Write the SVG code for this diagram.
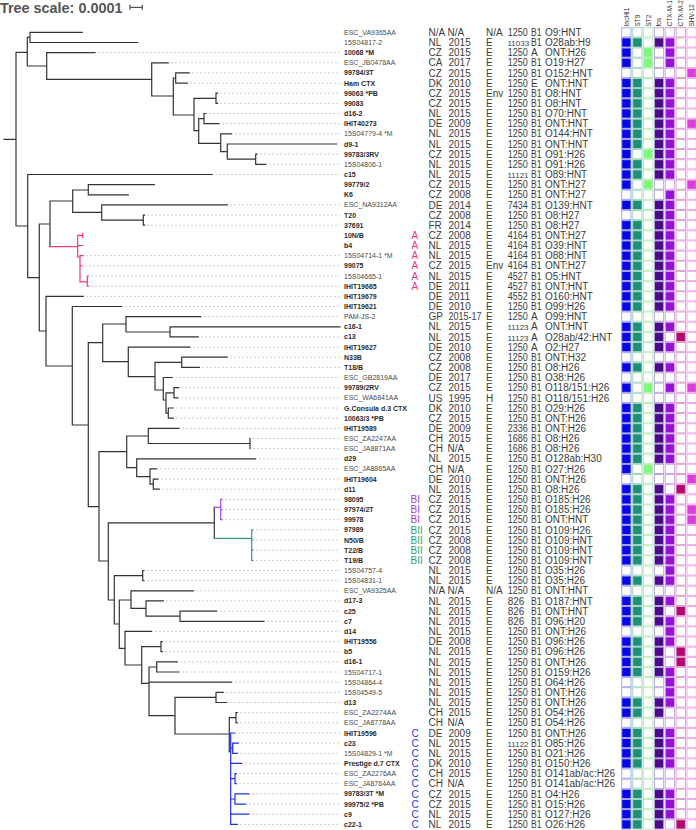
<svg xmlns="http://www.w3.org/2000/svg" width="696" height="830" viewBox="0 0 696 830">
<style>
text{font-family:"Liberation Sans",Arial,sans-serif}
.n{font-size:7px;fill:#4a4a4a}
.b{font-weight:bold;fill:#2a2a2a}
.m{font-size:10px;fill:#3c3c3c}
.s5{font-size:8px}
.ca{fill:#f2307c}.cbi{fill:#a33ed6}.cbii{fill:#2ea17e}.cc{fill:#2036f0}
.h{font-size:6.5px;fill:#333}
.t{fill:none;stroke:#333;stroke-width:1.2;stroke-linecap:square}
.tp{fill:none;stroke:#ee3a82;stroke-width:1.2;stroke-linecap:square}
.tv{fill:none;stroke:#b044e0;stroke-width:1.2;stroke-linecap:square}
.tg{fill:none;stroke:#2e9d7a;stroke-width:1.2;stroke-linecap:square}
.tb{fill:none;stroke:#1f2ff0;stroke-width:1.2;stroke-linecap:square}
.ld{fill:none;stroke:#cfcfcf;stroke-width:1;stroke-dasharray:2 2}
.i1{fill:#0707e4;stroke:#a4a4ee}.i0{fill:#fff;stroke:#a4a4ee}
.s1{fill:#1a9078;stroke:#a4d6c6}.s0{fill:#fff;stroke:#a4d6c6}
.g1{fill:#7ef97e;stroke:#b8f0b8}.g0{fill:#fff;stroke:#b8f0b8}
.f1{fill:#4a0a8a;stroke:#b8a6dc}.f0{fill:#fff;stroke:#b8a6dc}
.c1{fill:#9810d8;stroke:#d2a6f0}.c0{fill:#fff;stroke:#d2a6f0}
.k1{fill:#b0086e;stroke:#e0a0c4}.k0{fill:#fff;stroke:#e0a0c4}
.v1{fill:#d83ed8;stroke:#f0a8f0}.v0{fill:#fff;stroke:#f0a8f0}
</style>
<defs>
<rect id="I1" class="i1" x="621.7" y="-4.6" width="9.3" height="9.2"/><rect id="I0" class="i0" x="621.7" y="-4.6" width="9.3" height="9.2"/>
<rect id="S1" class="s1" x="632.7" y="-4.6" width="9.3" height="9.2"/><rect id="S0" class="s0" x="632.7" y="-4.6" width="9.3" height="9.2"/>
<rect id="G1" class="g1" x="643.5" y="-4.6" width="9.3" height="9.2"/><rect id="G0" class="g0" x="643.5" y="-4.6" width="9.3" height="9.2"/>
<rect id="F1" class="f1" x="654.4" y="-4.6" width="9.3" height="9.2"/><rect id="F0" class="f0" x="654.4" y="-4.6" width="9.3" height="9.2"/>
<rect id="C1" class="c1" x="665.3" y="-4.6" width="9.3" height="9.2"/><rect id="C0" class="c0" x="665.3" y="-4.6" width="9.3" height="9.2"/>
<rect id="K1" class="k1" x="676.1" y="-4.6" width="9.3" height="9.2"/><rect id="K0" class="k0" x="676.1" y="-4.6" width="9.3" height="9.2"/>
<rect id="V1" class="v1" x="687" y="-4.6" width="9.3" height="9.2"/><rect id="V0" class="v0" x="687" y="-4.6" width="9.3" height="9.2"/>
<g id="p0000000"><use href="#I0"/><use href="#S0"/><use href="#G0"/><use href="#F0"/><use href="#C0"/><use href="#K0"/><use href="#V0"/></g>
<g id="p1101100"><use href="#I1"/><use href="#S1"/><use href="#G0"/><use href="#F1"/><use href="#C1"/><use href="#K0"/><use href="#V0"/></g>
<g id="p1010100"><use href="#I1"/><use href="#S0"/><use href="#G1"/><use href="#F0"/><use href="#C1"/><use href="#K0"/><use href="#V0"/></g>
<g id="p0000001"><use href="#I0"/><use href="#S0"/><use href="#G0"/><use href="#F0"/><use href="#C0"/><use href="#K0"/><use href="#V1"/></g>
<g id="p1101101"><use href="#I1"/><use href="#S1"/><use href="#G0"/><use href="#F1"/><use href="#C1"/><use href="#K0"/><use href="#V1"/></g>
<g id="p1011100"><use href="#I1"/><use href="#S0"/><use href="#G1"/><use href="#F1"/><use href="#C1"/><use href="#K0"/><use href="#V0"/></g>
<g id="p1010001"><use href="#I1"/><use href="#S0"/><use href="#G1"/><use href="#F0"/><use href="#C0"/><use href="#K0"/><use href="#V1"/></g>
<g id="p0000100"><use href="#I0"/><use href="#S0"/><use href="#G0"/><use href="#F0"/><use href="#C1"/><use href="#K0"/><use href="#V0"/></g>
<g id="p0001100"><use href="#I0"/><use href="#S0"/><use href="#G0"/><use href="#F1"/><use href="#C1"/><use href="#K0"/><use href="#V0"/></g>
<g id="p1101010"><use href="#I1"/><use href="#S1"/><use href="#G0"/><use href="#F1"/><use href="#C0"/><use href="#K1"/><use href="#V0"/></g>
<g id="p1010101"><use href="#I1"/><use href="#S0"/><use href="#G1"/><use href="#F0"/><use href="#C1"/><use href="#K0"/><use href="#V1"/></g>
<g id="p1010000"><use href="#I1"/><use href="#S0"/><use href="#G1"/><use href="#F0"/><use href="#C0"/><use href="#K0"/><use href="#V0"/></g>
<g id="p1101000"><use href="#I1"/><use href="#S1"/><use href="#G0"/><use href="#F1"/><use href="#C0"/><use href="#K0"/><use href="#V0"/></g>
</defs>
<rect width="696" height="830" fill="#fff"/>
<g id="scale">
<text x="0" y="12.5" font-size="14.4" font-weight="bold" fill="#555">Tree scale: 0.0001</text>
<path d="M130,7.3H142.3M130,4.8V9.8M142.3,4.8V9.8" stroke="#555" stroke-width="1.3" fill="none"/>
</g>
<g id="header" class="h">
<text transform="translate(628.7,26.5) rotate(-90)">IncHI1</text>
<text transform="translate(639.7,26.5) rotate(-90)">ST9</text>
<text transform="translate(650.5,26.5) rotate(-90)">ST2</text>
<text transform="translate(661.4,26.5) rotate(-90)">fos</text>
<text transform="translate(672.3,26.5) rotate(-90)">CTX-M-1</text>
<text transform="translate(683.1,26.5) rotate(-90)">CTX-M-2</text>
<text transform="translate(694,26.5) rotate(-90)">SHV-12</text>
</g>
<g id="connectors">
<path class="ld" d="M98,52.6H340M171,62.8H340M192,72.9H340M190,83.1H340M220,93.2H340M220,103.4H340M209,113.5H340M222,123.7H340M235,133.8H340M260,154.1H340M269,164.3H340M215,174.5H340M230,204.9H340M147,215.1H340M147,225.2H340M86,255.7H340M85,265.8H340M91,276H340M91,286.2H340M86,296.3H340M125,306.5H340M204,316.6H340M201,336.9H340M193,347.1H340M230,357.2H340M202,367.4H340M175,377.5H340M181,387.7H340M181,397.9H340M176,408H340M176,418.2H340M182,428.3H340M253,438.5H340M253,448.6H340M259,458.8H340M160,468.9H340M161,479.1H340M162,489.2H340M225,499.4H340M225,509.6H340M225,519.7H340M256,529.9H340M256,540H340M256,550.2H340M256,560.3H340M147,570.5H340M147,580.6H340M196,590.8H340M166,600.9H340M220,611.1H340M267,621.3H340M155,631.4H340M165,641.6H340M165,651.7H340M180,661.9H340M182,672H340M235,682.2H340M226,692.3H340M230,702.5H340M240,712.7H340M240,722.8H340M238,733H340M241,743.1H340M240,753.3H340M245,763.4H340M239,773.6H340M239,783.7H340M252,793.9H340M249,804.1H340M252,814.2H340M240,824.4H340"/>
<path class="t" d="M4,139.3H16M16,52.3V226
M16,52.3H27.3M27.3,37.3V66M27.3,37.3H30M30,32.3V42.5M30,32.3H82.3M30,42.5H137.7
M27.3,66H46.7M46.7,52.6V79.3M46.7,52.6H95M46.7,79.3H151.7M151.7,62.8V96M151.7,62.8H168.3M151.7,96H173.3M173.3,78V115M173.3,78H175.7M175.7,72.9V83.1M175.7,72.9H189.3M175.7,83.1H187.3
M173.3,115H194M194,98.3V130.7M194,98.3H216M216,93.2V103.4M216,93.2H217.5M216,103.4H217.5
M194,130.7H198.7M198.7,118.6V143.3M198.7,118.6H204M204,113.5V123.7M204,113.5H206M204,123.7H219
M198.7,143.3H220.7M220.7,133.8V151.7M220.7,133.8H231.7M220.7,151.7H227.3M227.3,144V159.2M227.3,144H336.7M227.3,159.2H255.7M255.7,154.1V164.3M255.7,154.1H257M255.7,164.3H265.7
M16,226H27.7M27.7,174.5V277.7M27.7,174.5H212.3M27.7,277.7H39.3M39.3,224V331
M39.3,224H50M50,201V246.7M50,201H72.7M72.7,190V212.3M72.7,190H88.3M88.3,184.6V194.8M88.3,184.6H154.3M88.3,194.8H128.3
M72.7,212.3H101.7M101.7,204.9V220.1M101.7,204.9H227.3M101.7,220.1H143.3M143.3,215.1V225.2M143.3,215.1H144.5M143.3,225.2H144.5
M39.3,331H46M46,296.3V366M46,296.3H83.3M46,366H72.3M72.3,306.5V425M72.3,306.5H121.7M72.3,425H88.3M88.3,342.7V506.7
M88.3,342.7H102.7M102.7,324V361.7M102.7,324H126M126,316.6V332M126,316.6H200.7M126,332H170M170,326.8V336.9M170,326.8H340M170,336.9H198.3
M102.7,361.7H128.3M128.3,347.1V376.7M128.3,347.1H190M128.3,376.7H155M155,362.3V390M155,362.3H181.7M181.7,357.2V367.4M181.7,357.2H227.3M181.7,367.4H199.3
M155,390H163.3M163.3,377.5V400M163.3,377.5H172.3M163.3,400H166M166,392.8V413.1M166,392.8H174M174,387.7V397.9M174,387.7H178.7M174,397.9H178M166,413.1H168.3M168.3,408V418.2M168.3,408H173.3M168.3,418.2H173.3
M88.3,506.7H99M99,451.7V561M99,451.7H126.7M126.7,436V467.7M126.7,436H148.3M148.3,428.3V443.5M148.3,428.3H179M148.3,443.5H250M250,438.5V448.6
M126.7,467.7H136.7M136.7,458.8V476.7M136.7,458.8H255.7M136.7,476.7H150M150,468.9V484.2M150,468.9H156.7M150,484.2H153.3M153.3,479.1V489.2M153.3,479.1H158M153.3,489.2H159.3
M99,561H108.3M108.3,522.8V600M108.3,522.8H214.3M214.3,507.3V538.3
M108.3,600H114.3M114.3,575.6V624M114.3,575.6H142.7M142.7,570.5V580.6M142.7,570.5H144M142.7,580.6H144
M114.3,624H119.3M119.3,600V648.3M119.3,600H131M131,590.8V608.3M131,590.8H193.3M131,608.3H146M146,600.9V616.2M146,600.9H163.3M146,616.2H180M180,611.1V621.3M180,611.1H216.7M180,621.3H264
M119.3,648.3H125M125,631.4V665M125,631.4H151.7M125,665H141.7M141.7,646.7V683.3M141.7,646.7H161M161,641.6V651.7M161,641.6H162.3M161,651.7H162.3
M141.7,683.3H149M149,667V715.7M149,667H156.7M156.7,661.9V672M156.7,661.9H177.3M156.7,672H179M149,682.2H231.7M149,715.7H175M175,697.4V734M175,697.4H216M216,692.3V702.5M216,692.3H223.3M216,702.5H226.7
M175,734H229.3M229.3,717.7V751.7M229.3,717.7H236M236,712.7V722.8M236,712.7H237.3M236,722.8H237.3"/>
<path class="tp" d="M50,246.7H77.7M77.7,235.4V257M77.7,235.4H82.7M82.7,233.4V237.4M77.7,245.5H82.7M77.7,257H80M80,255.7V281.9M80,255.7H83.3M80,265.8H82M80,281.9H87.3M87.3,276V286.2M87.3,276H88.5M87.3,286.2H88.5"/>
<path class="tv" d="M214.3,507.3H220.7M220.7,499.4V519.7M220.7,499.4H222M220.7,509.6H222M220.7,519.7H222"/>
<path class="tg" d="M214.3,538.3H251.7M251.7,529.9V560.3M251.7,529.9H253M251.7,540H253M251.7,550.2H253M251.7,560.3H253"/>
<path class="tb" d="M229.3,751.7H230.7M230.7,733V824.4M230.7,733H235M230.7,748.2H232.7M232.7,743.1V753.3M232.7,743.1H238.3M232.7,753.3H237.3M230.7,763.4H241.7M230.7,778.6H235M235,773.6V783.7M235,773.6H236.3M235,783.7H236.3M230.7,799H235M235,793.9V804.1M235,793.9H249M235,804.1H245.7M230.7,814.2H249M230.7,824.4H237.3"/>
</g>
<g id="r1" transform="translate(0,32.3)"><text class="n" x="344" y="2.5">ESC_VA9365AA</text><text class="m" y="3.6"><tspan x="428.5">N/A</tspan><tspan x="447.5">N/A</tspan><tspan x="486">N/A</tspan></text><text class="m" x="507.7" y="3.6" textLength="20" lengthAdjust="spacingAndGlyphs">1250</text><text class="m" x="531" y="3.6" textLength="10.5" lengthAdjust="spacingAndGlyphs">B1</text><text class="m" x="545" y="3.6">O9:HNT</text><use href="#p0000000"/></g>
<g id="r2" transform="translate(0,42.5)"><text class="n" x="344" y="2.5">15S04817-2</text><text class="m" y="3.6"><tspan x="428.5">NL</tspan><tspan x="448.5">2015</tspan><tspan x="486">E</tspan></text><text class="m s5" x="507.5" y="3.6">11033</text><text class="m" x="531" y="3.6" textLength="10.5" lengthAdjust="spacingAndGlyphs">B1</text><text class="m" x="545" y="3.6">O28ab:H9</text><use href="#p1101100"/></g>
<g id="r3" transform="translate(0,52.6)"><text class="n b" x="344" y="2.5">10068 *M</text><text class="m" y="3.6"><tspan x="428.5">CZ</tspan><tspan x="448.5">2015</tspan><tspan x="486">E</tspan></text><text class="m" x="507.7" y="3.6" textLength="20" lengthAdjust="spacingAndGlyphs">1250</text><text class="m" x="531" y="3.6">A</text><text class="m" x="545" y="3.6">ONT:H26</text><use href="#p1010100"/></g>
<g id="r4" transform="translate(0,62.8)"><text class="n" x="344" y="2.5">ESC_JB0478AA</text><text class="m" y="3.6"><tspan x="428.5">CA</tspan><tspan x="448.5">2017</tspan><tspan x="486">E</tspan></text><text class="m" x="507.7" y="3.6" textLength="20" lengthAdjust="spacingAndGlyphs">1250</text><text class="m" x="531" y="3.6" textLength="10.5" lengthAdjust="spacingAndGlyphs">B1</text><text class="m" x="545" y="3.6">O19:H27</text><use href="#p1010100"/></g>
<g id="r5" transform="translate(0,72.9)"><text class="n b" x="344" y="2.5">99784/3T</text><text class="m" y="3.6"><tspan x="428.5">CZ</tspan><tspan x="448.5">2015</tspan><tspan x="486">E</tspan></text><text class="m" x="507.7" y="3.6" textLength="20" lengthAdjust="spacingAndGlyphs">1250</text><text class="m" x="531" y="3.6" textLength="10.5" lengthAdjust="spacingAndGlyphs">B1</text><text class="m" x="545" y="3.6">O152:HNT</text><use href="#p0000001"/></g>
<g id="r6" transform="translate(0,83.1)"><text class="n b" x="344" y="2.5">Ham CTX</text><text class="m" y="3.6"><tspan x="428.5">DK</tspan><tspan x="448.5">2010</tspan><tspan x="486">E</tspan></text><text class="m" x="507.7" y="3.6" textLength="20" lengthAdjust="spacingAndGlyphs">1250</text><text class="m" x="531" y="3.6">E</text><text class="m" x="545" y="3.6">ONT:HNT</text><use href="#p1101100"/></g>
<g id="r7" transform="translate(0,93.2)"><text class="n b" x="344" y="2.5">99063 *PB</text><text class="m" y="3.6"><tspan x="428.5">CZ</tspan><tspan x="448.5">2015</tspan><tspan x="486">Env</tspan></text><text class="m" x="507.7" y="3.6" textLength="20" lengthAdjust="spacingAndGlyphs">1250</text><text class="m" x="531" y="3.6" textLength="10.5" lengthAdjust="spacingAndGlyphs">B1</text><text class="m" x="545" y="3.6">O8:HNT</text><use href="#p1101100"/></g>
<g id="r8" transform="translate(0,103.4)"><text class="n b" x="344" y="2.5">99083</text><text class="m" y="3.6"><tspan x="428.5">CZ</tspan><tspan x="448.5">2015</tspan><tspan x="486">E</tspan></text><text class="m" x="507.7" y="3.6" textLength="20" lengthAdjust="spacingAndGlyphs">1250</text><text class="m" x="531" y="3.6" textLength="10.5" lengthAdjust="spacingAndGlyphs">B1</text><text class="m" x="545" y="3.6">O8:HNT</text><use href="#p1101100"/></g>
<g id="r9" transform="translate(0,113.5)"><text class="n b" x="344" y="2.5">d16-2</text><text class="m" y="3.6"><tspan x="428.5">NL</tspan><tspan x="448.5">2015</tspan><tspan x="486">E</tspan></text><text class="m" x="507.7" y="3.6" textLength="20" lengthAdjust="spacingAndGlyphs">1250</text><text class="m" x="531" y="3.6" textLength="10.5" lengthAdjust="spacingAndGlyphs">B1</text><text class="m" x="545" y="3.6">O70:HNT</text><use href="#p1101100"/></g>
<g id="r10" transform="translate(0,123.7)"><text class="n b" x="344" y="2.5">IHIT40273</text><text class="m" y="3.6"><tspan x="428.5">DE</tspan><tspan x="448.5">2009</tspan><tspan x="486">E</tspan></text><text class="m" x="507.7" y="3.6" textLength="20" lengthAdjust="spacingAndGlyphs">1250</text><text class="m" x="531" y="3.6" textLength="10.5" lengthAdjust="spacingAndGlyphs">B1</text><text class="m" x="545" y="3.6">ONT:HNT</text><use href="#p1101101"/></g>
<g id="r11" transform="translate(0,133.8)"><text class="n" x="344" y="2.5">15S04779-4 *M</text><text class="m" y="3.6"><tspan x="428.5">NL</tspan><tspan x="448.5">2015</tspan><tspan x="486">E</tspan></text><text class="m" x="507.7" y="3.6" textLength="20" lengthAdjust="spacingAndGlyphs">1250</text><text class="m" x="531" y="3.6" textLength="10.5" lengthAdjust="spacingAndGlyphs">B1</text><text class="m" x="545" y="3.6">O144:HNT</text><use href="#p1101100"/></g>
<g id="r12" transform="translate(0,144)"><text class="n b" x="344" y="2.5">d9-1</text><text class="m" y="3.6"><tspan x="428.5">NL</tspan><tspan x="448.5">2015</tspan><tspan x="486">E</tspan></text><text class="m" x="507.7" y="3.6" textLength="20" lengthAdjust="spacingAndGlyphs">1250</text><text class="m" x="531" y="3.6" textLength="10.5" lengthAdjust="spacingAndGlyphs">B1</text><text class="m" x="545" y="3.6">ONT:HNT</text><use href="#p1101100"/></g>
<g id="r13" transform="translate(0,154.1)"><text class="n b" x="344" y="2.5">99783/3RV</text><text class="m" y="3.6"><tspan x="428.5">CZ</tspan><tspan x="448.5">2015</tspan><tspan x="486">E</tspan></text><text class="m" x="507.7" y="3.6" textLength="20" lengthAdjust="spacingAndGlyphs">1250</text><text class="m" x="531" y="3.6" textLength="10.5" lengthAdjust="spacingAndGlyphs">B1</text><text class="m" x="545" y="3.6">O91:H26</text><use href="#p1011100"/></g>
<g id="r14" transform="translate(0,164.3)"><text class="n" x="344" y="2.5">15S04806-1</text><text class="m" y="3.6"><tspan x="428.5">NL</tspan><tspan x="448.5">2015</tspan><tspan x="486">E</tspan></text><text class="m" x="507.7" y="3.6" textLength="20" lengthAdjust="spacingAndGlyphs">1250</text><text class="m" x="531" y="3.6" textLength="10.5" lengthAdjust="spacingAndGlyphs">B1</text><text class="m" x="545" y="3.6">O91:H26</text><use href="#p1101100"/></g>
<g id="r15" transform="translate(0,174.5)"><text class="n b" x="344" y="2.5">c15</text><text class="m" y="3.6"><tspan x="428.5">NL</tspan><tspan x="448.5">2015</tspan><tspan x="486">E</tspan></text><text class="m s5" x="507.5" y="3.6">11121</text><text class="m" x="531" y="3.6" textLength="10.5" lengthAdjust="spacingAndGlyphs">B1</text><text class="m" x="545" y="3.6">O89:HNT</text><use href="#p1101100"/></g>
<g id="r16" transform="translate(0,184.6)"><text class="n b" x="344" y="2.5">99779/2</text><text class="m" y="3.6"><tspan x="428.5">CZ</tspan><tspan x="448.5">2015</tspan><tspan x="486">E</tspan></text><text class="m" x="507.7" y="3.6" textLength="20" lengthAdjust="spacingAndGlyphs">1250</text><text class="m" x="531" y="3.6" textLength="10.5" lengthAdjust="spacingAndGlyphs">B1</text><text class="m" x="545" y="3.6">ONT:H27</text><use href="#p1010001"/></g>
<g id="r17" transform="translate(0,194.8)"><text class="n b" x="344" y="2.5">K6</text><text class="m" y="3.6"><tspan x="428.5">CZ</tspan><tspan x="448.5">2008</tspan><tspan x="486">E</tspan></text><text class="m" x="507.7" y="3.6" textLength="20" lengthAdjust="spacingAndGlyphs">1250</text><text class="m" x="531" y="3.6" textLength="10.5" lengthAdjust="spacingAndGlyphs">B1</text><text class="m" x="545" y="3.6">ONT:H27</text><use href="#p0000100"/></g>
<g id="r18" transform="translate(0,204.9)"><text class="n" x="344" y="2.5">ESC_NA9312AA</text><text class="m" y="3.6"><tspan x="428.5">DE</tspan><tspan x="448.5">2014</tspan><tspan x="486">E</tspan></text><text class="m" x="507.7" y="3.6" textLength="20" lengthAdjust="spacingAndGlyphs">7434</text><text class="m" x="531" y="3.6" textLength="10.5" lengthAdjust="spacingAndGlyphs">B1</text><text class="m" x="545" y="3.6">O139:HNT</text><use href="#p1101100"/></g>
<g id="r19" transform="translate(0,215.1)"><text class="n b" x="344" y="2.5">T20</text><text class="m" y="3.6"><tspan x="428.5">CZ</tspan><tspan x="448.5">2008</tspan><tspan x="486">E</tspan></text><text class="m" x="507.7" y="3.6" textLength="20" lengthAdjust="spacingAndGlyphs">1250</text><text class="m" x="531" y="3.6" textLength="10.5" lengthAdjust="spacingAndGlyphs">B1</text><text class="m" x="545" y="3.6">O8:H27</text><use href="#p0001100"/></g>
<g id="r20" transform="translate(0,225.2)"><text class="n b" x="344" y="2.5">37691</text><text class="m" y="3.6"><tspan x="428.5">FR</tspan><tspan x="448.5">2014</tspan><tspan x="486">E</tspan></text><text class="m" x="507.7" y="3.6" textLength="20" lengthAdjust="spacingAndGlyphs">1250</text><text class="m" x="531" y="3.6" textLength="10.5" lengthAdjust="spacingAndGlyphs">B1</text><text class="m" x="545" y="3.6">O8:H27</text><use href="#p1101100"/></g>
<g id="r21" transform="translate(0,235.4)"><text class="n b" x="344" y="2.5">10N/B</text><text class="m ca" x="411.5" y="3.6">A</text><text class="m" y="3.6"><tspan x="428.5">CZ</tspan><tspan x="448.5">2008</tspan><tspan x="486">E</tspan></text><text class="m" x="507.7" y="3.6" textLength="20" lengthAdjust="spacingAndGlyphs">4164</text><text class="m" x="531" y="3.6" textLength="10.5" lengthAdjust="spacingAndGlyphs">B1</text><text class="m" x="545" y="3.6">ONT:H27</text><use href="#p1101100"/></g>
<g id="r22" transform="translate(0,245.5)"><text class="n b" x="344" y="2.5">b4</text><text class="m ca" x="411.5" y="3.6">A</text><text class="m" y="3.6"><tspan x="428.5">NL</tspan><tspan x="448.5">2015</tspan><tspan x="486">E</tspan></text><text class="m" x="507.7" y="3.6" textLength="20" lengthAdjust="spacingAndGlyphs">4164</text><text class="m" x="531" y="3.6" textLength="10.5" lengthAdjust="spacingAndGlyphs">B1</text><text class="m" x="545" y="3.6">O39:HNT</text><use href="#p1101100"/></g>
<g id="r23" transform="translate(0,255.7)"><text class="n" x="344" y="2.5">15S04714-1 *M</text><text class="m ca" x="411.5" y="3.6">A</text><text class="m" y="3.6"><tspan x="428.5">NL</tspan><tspan x="448.5">2015</tspan><tspan x="486">E</tspan></text><text class="m" x="507.7" y="3.6" textLength="20" lengthAdjust="spacingAndGlyphs">4164</text><text class="m" x="531" y="3.6" textLength="10.5" lengthAdjust="spacingAndGlyphs">B1</text><text class="m" x="545" y="3.6">O88:HNT</text><use href="#p1101100"/></g>
<g id="r24" transform="translate(0,265.8)"><text class="n b" x="344" y="2.5">99075</text><text class="m ca" x="411.5" y="3.6">A</text><text class="m" y="3.6"><tspan x="428.5">CZ</tspan><tspan x="448.5">2015</tspan><tspan x="486">Env</tspan></text><text class="m" x="507.7" y="3.6" textLength="20" lengthAdjust="spacingAndGlyphs">4164</text><text class="m" x="531" y="3.6" textLength="10.5" lengthAdjust="spacingAndGlyphs">B1</text><text class="m" x="545" y="3.6">ONT:H27</text><use href="#p1101100"/></g>
<g id="r25" transform="translate(0,276)"><text class="n" x="344" y="2.5">15S04665-1</text><text class="m ca" x="411.5" y="3.6">A</text><text class="m" y="3.6"><tspan x="428.5">NL</tspan><tspan x="448.5">2015</tspan><tspan x="486">E</tspan></text><text class="m" x="507.7" y="3.6" textLength="20" lengthAdjust="spacingAndGlyphs">4527</text><text class="m" x="531" y="3.6" textLength="10.5" lengthAdjust="spacingAndGlyphs">B1</text><text class="m" x="545" y="3.6">O5:HNT</text><use href="#p1101100"/></g>
<g id="r26" transform="translate(0,286.2)"><text class="n b" x="344" y="2.5">IHIT19665</text><text class="m ca" x="411.5" y="3.6">A</text><text class="m" y="3.6"><tspan x="428.5">DE</tspan><tspan x="448.5">2011</tspan><tspan x="486">E</tspan></text><text class="m" x="507.7" y="3.6" textLength="20" lengthAdjust="spacingAndGlyphs">4527</text><text class="m" x="531" y="3.6" textLength="10.5" lengthAdjust="spacingAndGlyphs">B1</text><text class="m" x="545" y="3.6">ONT:HNT</text><use href="#p1101100"/></g>
<g id="r27" transform="translate(0,296.3)"><text class="n b" x="344" y="2.5">IHIT19679</text><text class="m" y="3.6"><tspan x="428.5">DE</tspan><tspan x="448.5">2011</tspan><tspan x="486">E</tspan></text><text class="m" x="507.7" y="3.6" textLength="20" lengthAdjust="spacingAndGlyphs">4552</text><text class="m" x="531" y="3.6" textLength="10.5" lengthAdjust="spacingAndGlyphs">B1</text><text class="m" x="545" y="3.6">O160:HNT</text><use href="#p1101100"/></g>
<g id="r28" transform="translate(0,306.5)"><text class="n b" x="344" y="2.5">IHIT19621</text><text class="m" y="3.6"><tspan x="428.5">DE</tspan><tspan x="448.5">2010</tspan><tspan x="486">E</tspan></text><text class="m" x="507.7" y="3.6" textLength="20" lengthAdjust="spacingAndGlyphs">1250</text><text class="m" x="531" y="3.6" textLength="10.5" lengthAdjust="spacingAndGlyphs">B1</text><text class="m" x="545" y="3.6">O99:H26</text><use href="#p1101100"/></g>
<g id="r29" transform="translate(0,316.6)"><text class="n" x="344" y="2.5">PAM-JS-2</text><text class="m" x="428.5" y="3.6">GP</text><text class="m" x="448.5" y="3.6" textLength="33" lengthAdjust="spacingAndGlyphs">2015-17</text><text class="m" x="486" y="3.6">E</text><text class="m" x="507.7" y="3.6" textLength="20" lengthAdjust="spacingAndGlyphs">1250</text><text class="m" x="531" y="3.6">A</text><text class="m" x="545" y="3.6">O99:HNT</text><use href="#p0000000"/></g>
<g id="r30" transform="translate(0,326.8)"><text class="n b" x="344" y="2.5">c16-1</text><text class="m" y="3.6"><tspan x="428.5">NL</tspan><tspan x="448.5">2015</tspan><tspan x="486">E</tspan></text><text class="m s5" x="507.5" y="3.6">11123</text><text class="m" x="531" y="3.6">A</text><text class="m" x="545" y="3.6">ONT:HNT</text><use href="#p1101100"/></g>
<g id="r31" transform="translate(0,336.9)"><text class="n b" x="344" y="2.5">c13</text><text class="m" y="3.6"><tspan x="428.5">NL</tspan><tspan x="448.5">2015</tspan><tspan x="486">E</tspan></text><text class="m s5" x="507.5" y="3.6">11123</text><text class="m" x="531" y="3.6">A</text><text class="m" x="545" y="3.6">O28ab/42:HNT</text><use href="#p1101010"/></g>
<g id="r32" transform="translate(0,347.1)"><text class="n b" x="344" y="2.5">IHIT19627</text><text class="m" y="3.6"><tspan x="428.5">DE</tspan><tspan x="448.5">2010</tspan><tspan x="486">E</tspan></text><text class="m" x="507.7" y="3.6" textLength="20" lengthAdjust="spacingAndGlyphs">1250</text><text class="m" x="531" y="3.6">A</text><text class="m" x="545" y="3.6">O2:H27</text><use href="#p1101100"/></g>
<g id="r33" transform="translate(0,357.2)"><text class="n b" x="344" y="2.5">N33B</text><text class="m" y="3.6"><tspan x="428.5">CZ</tspan><tspan x="448.5">2008</tspan><tspan x="486">E</tspan></text><text class="m" x="507.7" y="3.6" textLength="20" lengthAdjust="spacingAndGlyphs">1250</text><text class="m" x="531" y="3.6" textLength="10.5" lengthAdjust="spacingAndGlyphs">B1</text><text class="m" x="545" y="3.6">ONT:H32</text><use href="#p0000000"/></g>
<g id="r34" transform="translate(0,367.4)"><text class="n b" x="344" y="2.5">T18/B</text><text class="m" y="3.6"><tspan x="428.5">CZ</tspan><tspan x="448.5">2008</tspan><tspan x="486">E</tspan></text><text class="m" x="507.7" y="3.6" textLength="20" lengthAdjust="spacingAndGlyphs">1250</text><text class="m" x="531" y="3.6" textLength="10.5" lengthAdjust="spacingAndGlyphs">B1</text><text class="m" x="545" y="3.6">O8:H26</text><use href="#p1101100"/></g>
<g id="r35" transform="translate(0,377.5)"><text class="n" x="344" y="2.5">ESC_GB2819AA</text><text class="m" y="3.6"><tspan x="428.5">DE</tspan><tspan x="448.5">2017</tspan><tspan x="486">E</tspan></text><text class="m" x="507.7" y="3.6" textLength="20" lengthAdjust="spacingAndGlyphs">1250</text><text class="m" x="531" y="3.6" textLength="10.5" lengthAdjust="spacingAndGlyphs">B1</text><text class="m" x="545" y="3.6">O38:H26</text><use href="#p0000000"/></g>
<g id="r36" transform="translate(0,387.7)"><text class="n b" x="344" y="2.5">99789/2RV</text><text class="m" y="3.6"><tspan x="428.5">CZ</tspan><tspan x="448.5">2015</tspan><tspan x="486">E</tspan></text><text class="m" x="507.7" y="3.6" textLength="20" lengthAdjust="spacingAndGlyphs">1250</text><text class="m" x="531" y="3.6" textLength="10.5" lengthAdjust="spacingAndGlyphs">B1</text><text class="m" x="545" y="3.6">O118/151:H26</text><use href="#p1010101"/></g>
<g id="r37" transform="translate(0,397.9)"><text class="n" x="344" y="2.5">ESC_WA6841AA</text><text class="m" y="3.6"><tspan x="428.5">US</tspan><tspan x="448.5">1995</tspan><tspan x="486">H</tspan></text><text class="m" x="507.7" y="3.6" textLength="20" lengthAdjust="spacingAndGlyphs">1250</text><text class="m" x="531" y="3.6" textLength="10.5" lengthAdjust="spacingAndGlyphs">B1</text><text class="m" x="545" y="3.6">O118/151:H26</text><use href="#p0000000"/></g>
<g id="r38" transform="translate(0,408)"><text class="n b" x="344" y="2.5">G.Consula d.3 CTX</text><text class="m" y="3.6"><tspan x="428.5">DK</tspan><tspan x="448.5">2010</tspan><tspan x="486">E</tspan></text><text class="m" x="507.7" y="3.6" textLength="20" lengthAdjust="spacingAndGlyphs">1250</text><text class="m" x="531" y="3.6" textLength="10.5" lengthAdjust="spacingAndGlyphs">B1</text><text class="m" x="545" y="3.6">O29:H26</text><use href="#p1101100"/></g>
<g id="r39" transform="translate(0,418.2)"><text class="n b" x="344" y="2.5">10063/3 *PB</text><text class="m" y="3.6"><tspan x="428.5">CZ</tspan><tspan x="448.5">2015</tspan><tspan x="486">E</tspan></text><text class="m" x="507.7" y="3.6" textLength="20" lengthAdjust="spacingAndGlyphs">1250</text><text class="m" x="531" y="3.6" textLength="10.5" lengthAdjust="spacingAndGlyphs">B1</text><text class="m" x="545" y="3.6">ONT:H26</text><use href="#p1101100"/></g>
<g id="r40" transform="translate(0,428.3)"><text class="n b" x="344" y="2.5">IHIT19589</text><text class="m" y="3.6"><tspan x="428.5">DE</tspan><tspan x="448.5">2009</tspan><tspan x="486">E</tspan></text><text class="m" x="507.7" y="3.6" textLength="20" lengthAdjust="spacingAndGlyphs">2336</text><text class="m" x="531" y="3.6" textLength="10.5" lengthAdjust="spacingAndGlyphs">B1</text><text class="m" x="545" y="3.6">ONT:H26</text><use href="#p1101100"/></g>
<g id="r41" transform="translate(0,438.5)"><text class="n" x="344" y="2.5">ESC_ZA2247AA</text><text class="m" y="3.6"><tspan x="428.5">CH</tspan><tspan x="448.5">2015</tspan><tspan x="486">E</tspan></text><text class="m" x="507.7" y="3.6" textLength="20" lengthAdjust="spacingAndGlyphs">1686</text><text class="m" x="531" y="3.6" textLength="10.5" lengthAdjust="spacingAndGlyphs">B1</text><text class="m" x="545" y="3.6">O8:H26</text><use href="#p1101100"/></g>
<g id="r42" transform="translate(0,448.6)"><text class="n" x="344" y="2.5">ESC_JA8871AA</text><text class="m" y="3.6"><tspan x="428.5">CH</tspan><tspan x="447.5">N/A</tspan><tspan x="486">E</tspan></text><text class="m" x="507.7" y="3.6" textLength="20" lengthAdjust="spacingAndGlyphs">1686</text><text class="m" x="531" y="3.6" textLength="10.5" lengthAdjust="spacingAndGlyphs">B1</text><text class="m" x="545" y="3.6">O8:H26</text><use href="#p1101100"/></g>
<g id="r43" transform="translate(0,458.8)"><text class="n b" x="344" y="2.5">d29</text><text class="m" y="3.6"><tspan x="428.5">NL</tspan><tspan x="448.5">2015</tspan><tspan x="486">E</tspan></text><text class="m" x="507.7" y="3.6" textLength="20" lengthAdjust="spacingAndGlyphs">1250</text><text class="m" x="531" y="3.6" textLength="10.5" lengthAdjust="spacingAndGlyphs">B1</text><text class="m" x="545" y="3.6">O128ab:H30</text><use href="#p1101100"/></g>
<g id="r44" transform="translate(0,468.9)"><text class="n" x="344" y="2.5">ESC_JA8865AA</text><text class="m" y="3.6"><tspan x="428.5">CH</tspan><tspan x="447.5">N/A</tspan><tspan x="486">E</tspan></text><text class="m" x="507.7" y="3.6" textLength="20" lengthAdjust="spacingAndGlyphs">1250</text><text class="m" x="531" y="3.6" textLength="10.5" lengthAdjust="spacingAndGlyphs">B1</text><text class="m" x="545" y="3.6">O27:H26</text><use href="#p1010000"/></g>
<g id="r45" transform="translate(0,479.1)"><text class="n b" x="344" y="2.5">IHIT19604</text><text class="m" y="3.6"><tspan x="428.5">DE</tspan><tspan x="448.5">2010</tspan><tspan x="486">E</tspan></text><text class="m" x="507.7" y="3.6" textLength="20" lengthAdjust="spacingAndGlyphs">1250</text><text class="m" x="531" y="3.6" textLength="10.5" lengthAdjust="spacingAndGlyphs">B1</text><text class="m" x="545" y="3.6">ONT:H26</text><use href="#p0000001"/></g>
<g id="r46" transform="translate(0,489.2)"><text class="n b" x="344" y="2.5">d11</text><text class="m" y="3.6"><tspan x="428.5">NL</tspan><tspan x="448.5">2015</tspan><tspan x="486">E</tspan></text><text class="m" x="507.7" y="3.6" textLength="20" lengthAdjust="spacingAndGlyphs">1250</text><text class="m" x="531" y="3.6" textLength="10.5" lengthAdjust="spacingAndGlyphs">B1</text><text class="m" x="545" y="3.6">O8:H26</text><use href="#p1101010"/></g>
<g id="r47" transform="translate(0,499.4)"><text class="n b" x="344" y="2.5">98095</text><text class="m cbi" x="410.5" y="3.6">BI</text><text class="m" y="3.6"><tspan x="428.5">CZ</tspan><tspan x="448.5">2015</tspan><tspan x="486">E</tspan></text><text class="m" x="507.7" y="3.6" textLength="20" lengthAdjust="spacingAndGlyphs">1250</text><text class="m" x="531" y="3.6" textLength="10.5" lengthAdjust="spacingAndGlyphs">B1</text><text class="m" x="545" y="3.6">O185:H26</text><use href="#p1101100"/></g>
<g id="r48" transform="translate(0,509.6)"><text class="n b" x="344" y="2.5">97974/2T</text><text class="m cbi" x="410.5" y="3.6">BI</text><text class="m" y="3.6"><tspan x="428.5">CZ</tspan><tspan x="448.5">2015</tspan><tspan x="486">E</tspan></text><text class="m" x="507.7" y="3.6" textLength="20" lengthAdjust="spacingAndGlyphs">1250</text><text class="m" x="531" y="3.6" textLength="10.5" lengthAdjust="spacingAndGlyphs">B1</text><text class="m" x="545" y="3.6">O185:H26</text><use href="#p1101101"/></g>
<g id="r49" transform="translate(0,519.7)"><text class="n b" x="344" y="2.5">99978</text><text class="m cbi" x="410.5" y="3.6">BI</text><text class="m" y="3.6"><tspan x="428.5">CZ</tspan><tspan x="448.5">2015</tspan><tspan x="486">E</tspan></text><text class="m" x="507.7" y="3.6" textLength="20" lengthAdjust="spacingAndGlyphs">1250</text><text class="m" x="531" y="3.6" textLength="10.5" lengthAdjust="spacingAndGlyphs">B1</text><text class="m" x="545" y="3.6">ONT:HNT</text><use href="#p1101101"/></g>
<g id="r50" transform="translate(0,529.9)"><text class="n b" x="344" y="2.5">97989</text><text class="m cbii" x="410.5" y="3.6">BII</text><text class="m" y="3.6"><tspan x="428.5">CZ</tspan><tspan x="448.5">2015</tspan><tspan x="486">E</tspan></text><text class="m" x="507.7" y="3.6" textLength="20" lengthAdjust="spacingAndGlyphs">1250</text><text class="m" x="531" y="3.6" textLength="10.5" lengthAdjust="spacingAndGlyphs">B1</text><text class="m" x="545" y="3.6">O109:H26</text><use href="#p1101100"/></g>
<g id="r51" transform="translate(0,540)"><text class="n b" x="344" y="2.5">N50/B</text><text class="m cbii" x="410.5" y="3.6">BII</text><text class="m" y="3.6"><tspan x="428.5">CZ</tspan><tspan x="448.5">2008</tspan><tspan x="486">E</tspan></text><text class="m" x="507.7" y="3.6" textLength="20" lengthAdjust="spacingAndGlyphs">1250</text><text class="m" x="531" y="3.6" textLength="10.5" lengthAdjust="spacingAndGlyphs">B1</text><text class="m" x="545" y="3.6">O109:HNT</text><use href="#p1101100"/></g>
<g id="r52" transform="translate(0,550.2)"><text class="n b" x="344" y="2.5">T22/B</text><text class="m cbii" x="410.5" y="3.6">BII</text><text class="m" y="3.6"><tspan x="428.5">CZ</tspan><tspan x="448.5">2008</tspan><tspan x="486">E</tspan></text><text class="m" x="507.7" y="3.6" textLength="20" lengthAdjust="spacingAndGlyphs">1250</text><text class="m" x="531" y="3.6" textLength="10.5" lengthAdjust="spacingAndGlyphs">B1</text><text class="m" x="545" y="3.6">O109:HNT</text><use href="#p1101100"/></g>
<g id="r53" transform="translate(0,560.3)"><text class="n b" x="344" y="2.5">T19/B</text><text class="m cbii" x="410.5" y="3.6">BII</text><text class="m" y="3.6"><tspan x="428.5">CZ</tspan><tspan x="448.5">2008</tspan><tspan x="486">E</tspan></text><text class="m" x="507.7" y="3.6" textLength="20" lengthAdjust="spacingAndGlyphs">1250</text><text class="m" x="531" y="3.6" textLength="10.5" lengthAdjust="spacingAndGlyphs">B1</text><text class="m" x="545" y="3.6">O109:HNT</text><use href="#p1101100"/></g>
<g id="r54" transform="translate(0,570.5)"><text class="n" x="344" y="2.5">15S04757-4</text><text class="m" y="3.6"><tspan x="428.5">NL</tspan><tspan x="448.5">2015</tspan><tspan x="486">E</tspan></text><text class="m" x="507.7" y="3.6" textLength="20" lengthAdjust="spacingAndGlyphs">1250</text><text class="m" x="531" y="3.6" textLength="10.5" lengthAdjust="spacingAndGlyphs">B1</text><text class="m" x="545" y="3.6">O35:H26</text><use href="#p0000100"/></g>
<g id="r55" transform="translate(0,580.6)"><text class="n" x="344" y="2.5">15S04831-1</text><text class="m" y="3.6"><tspan x="428.5">NL</tspan><tspan x="448.5">2015</tspan><tspan x="486">E</tspan></text><text class="m" x="507.7" y="3.6" textLength="20" lengthAdjust="spacingAndGlyphs">1250</text><text class="m" x="531" y="3.6" textLength="10.5" lengthAdjust="spacingAndGlyphs">B1</text><text class="m" x="545" y="3.6">O35:H26</text><use href="#p1101100"/></g>
<g id="r56" transform="translate(0,590.8)"><text class="n" x="344" y="2.5">ESC_VA9325AA</text><text class="m" y="3.6"><tspan x="428.5">N/A</tspan><tspan x="447.5">N/A</tspan><tspan x="486">N/A</tspan></text><text class="m" x="507.7" y="3.6" textLength="20" lengthAdjust="spacingAndGlyphs">1250</text><text class="m" x="531" y="3.6" textLength="10.5" lengthAdjust="spacingAndGlyphs">B1</text><text class="m" x="545" y="3.6">ONT:HNT</text><use href="#p0000000"/></g>
<g id="r57" transform="translate(0,600.9)"><text class="n b" x="344" y="2.5">d17-3</text><text class="m" y="3.6"><tspan x="428.5">NL</tspan><tspan x="448.5">2015</tspan><tspan x="486">E</tspan><tspan x="507.7">826</tspan></text><text class="m" x="531" y="3.6" textLength="10.5" lengthAdjust="spacingAndGlyphs">B1</text><text class="m" x="545" y="3.6">O187:HNT</text><use href="#p1101100"/></g>
<g id="r58" transform="translate(0,611.1)"><text class="n b" x="344" y="2.5">c25</text><text class="m" y="3.6"><tspan x="428.5">NL</tspan><tspan x="448.5">2015</tspan><tspan x="486">E</tspan><tspan x="507.7">826</tspan></text><text class="m" x="531" y="3.6" textLength="10.5" lengthAdjust="spacingAndGlyphs">B1</text><text class="m" x="545" y="3.6">ONT:HNT</text><use href="#p1101010"/></g>
<g id="r59" transform="translate(0,621.3)"><text class="n b" x="344" y="2.5">c7</text><text class="m" y="3.6"><tspan x="428.5">NL</tspan><tspan x="448.5">2015</tspan><tspan x="486">E</tspan><tspan x="507.7">826</tspan></text><text class="m" x="531" y="3.6" textLength="10.5" lengthAdjust="spacingAndGlyphs">B1</text><text class="m" x="545" y="3.6">O96:H20</text><use href="#p1101100"/></g>
<g id="r60" transform="translate(0,631.4)"><text class="n b" x="344" y="2.5">d14</text><text class="m" y="3.6"><tspan x="428.5">NL</tspan><tspan x="448.5">2015</tspan><tspan x="486">E</tspan></text><text class="m" x="507.7" y="3.6" textLength="20" lengthAdjust="spacingAndGlyphs">1250</text><text class="m" x="531" y="3.6" textLength="10.5" lengthAdjust="spacingAndGlyphs">B1</text><text class="m" x="545" y="3.6">ONT:H26</text><use href="#p0000100"/></g>
<g id="r61" transform="translate(0,641.6)"><text class="n b" x="344" y="2.5">IHIT19556</text><text class="m" y="3.6"><tspan x="428.5">DE</tspan><tspan x="448.5">2008</tspan><tspan x="486">E</tspan></text><text class="m" x="507.7" y="3.6" textLength="20" lengthAdjust="spacingAndGlyphs">1250</text><text class="m" x="531" y="3.6" textLength="10.5" lengthAdjust="spacingAndGlyphs">B1</text><text class="m" x="545" y="3.6">O96:H26</text><use href="#p1101100"/></g>
<g id="r62" transform="translate(0,651.7)"><text class="n b" x="344" y="2.5">b5</text><text class="m" y="3.6"><tspan x="428.5">NL</tspan><tspan x="448.5">2015</tspan><tspan x="486">E</tspan></text><text class="m" x="507.7" y="3.6" textLength="20" lengthAdjust="spacingAndGlyphs">1250</text><text class="m" x="531" y="3.6" textLength="10.5" lengthAdjust="spacingAndGlyphs">B1</text><text class="m" x="545" y="3.6">O96:H26</text><use href="#p1101010"/></g>
<g id="r63" transform="translate(0,661.9)"><text class="n b" x="344" y="2.5">d16-1</text><text class="m" y="3.6"><tspan x="428.5">NL</tspan><tspan x="448.5">2015</tspan><tspan x="486">E</tspan></text><text class="m" x="507.7" y="3.6" textLength="20" lengthAdjust="spacingAndGlyphs">1250</text><text class="m" x="531" y="3.6" textLength="10.5" lengthAdjust="spacingAndGlyphs">B1</text><text class="m" x="545" y="3.6">ONT:H26</text><use href="#p1101010"/></g>
<g id="r64" transform="translate(0,672)"><text class="n" x="344" y="2.5">15S04717-1</text><text class="m" y="3.6"><tspan x="428.5">NL</tspan><tspan x="448.5">2015</tspan><tspan x="486">E</tspan></text><text class="m" x="507.7" y="3.6" textLength="20" lengthAdjust="spacingAndGlyphs">1250</text><text class="m" x="531" y="3.6" textLength="10.5" lengthAdjust="spacingAndGlyphs">B1</text><text class="m" x="545" y="3.6">O159:H26</text><use href="#p1101100"/></g>
<g id="r65" transform="translate(0,682.2)"><text class="n" x="344" y="2.5">15S04864-4</text><text class="m" y="3.6"><tspan x="428.5">NL</tspan><tspan x="448.5">2015</tspan><tspan x="486">E</tspan></text><text class="m" x="507.7" y="3.6" textLength="20" lengthAdjust="spacingAndGlyphs">1250</text><text class="m" x="531" y="3.6" textLength="10.5" lengthAdjust="spacingAndGlyphs">B1</text><text class="m" x="545" y="3.6">O64:H26</text><use href="#p0000100"/></g>
<g id="r66" transform="translate(0,692.3)"><text class="n" x="344" y="2.5">15S04549-5</text><text class="m" y="3.6"><tspan x="428.5">NL</tspan><tspan x="448.5">2015</tspan><tspan x="486">E</tspan></text><text class="m" x="507.7" y="3.6" textLength="20" lengthAdjust="spacingAndGlyphs">1250</text><text class="m" x="531" y="3.6" textLength="10.5" lengthAdjust="spacingAndGlyphs">B1</text><text class="m" x="545" y="3.6">ONT:H26</text><use href="#p0000100"/></g>
<g id="r67" transform="translate(0,702.5)"><text class="n b" x="344" y="2.5">d13</text><text class="m" y="3.6"><tspan x="428.5">NL</tspan><tspan x="448.5">2015</tspan><tspan x="486">E</tspan></text><text class="m" x="507.7" y="3.6" textLength="20" lengthAdjust="spacingAndGlyphs">1250</text><text class="m" x="531" y="3.6" textLength="10.5" lengthAdjust="spacingAndGlyphs">B1</text><text class="m" x="545" y="3.6">ONT:H26</text><use href="#p1101100"/></g>
<g id="r68" transform="translate(0,712.7)"><text class="n" x="344" y="2.5">ESC_ZA2274AA</text><text class="m" y="3.6"><tspan x="428.5">CH</tspan><tspan x="448.5">2015</tspan><tspan x="486">E</tspan></text><text class="m" x="507.7" y="3.6" textLength="20" lengthAdjust="spacingAndGlyphs">1250</text><text class="m" x="531" y="3.6" textLength="10.5" lengthAdjust="spacingAndGlyphs">B1</text><text class="m" x="545" y="3.6">O54:H26</text><use href="#p1101000"/></g>
<g id="r69" transform="translate(0,722.8)"><text class="n" x="344" y="2.5">ESC_JA8778AA</text><text class="m" y="3.6"><tspan x="428.5">CH</tspan><tspan x="447.5">N/A</tspan><tspan x="486">E</tspan></text><text class="m" x="507.7" y="3.6" textLength="20" lengthAdjust="spacingAndGlyphs">1250</text><text class="m" x="531" y="3.6" textLength="10.5" lengthAdjust="spacingAndGlyphs">B1</text><text class="m" x="545" y="3.6">O54:H26</text><use href="#p0000000"/></g>
<g id="r70" transform="translate(0,733)"><text class="n b" x="344" y="2.5">IHIT19596</text><text class="m cc" x="411.5" y="3.6">C</text><text class="m" y="3.6"><tspan x="428.5">DE</tspan><tspan x="448.5">2009</tspan><tspan x="486">E</tspan></text><text class="m" x="507.7" y="3.6" textLength="20" lengthAdjust="spacingAndGlyphs">1250</text><text class="m" x="531" y="3.6" textLength="10.5" lengthAdjust="spacingAndGlyphs">B1</text><text class="m" x="545" y="3.6">ONT:H26</text><use href="#p1101100"/></g>
<g id="r71" transform="translate(0,743.1)"><text class="n b" x="344" y="2.5">c23</text><text class="m cc" x="411.5" y="3.6">C</text><text class="m" y="3.6"><tspan x="428.5">NL</tspan><tspan x="448.5">2015</tspan><tspan x="486">E</tspan></text><text class="m s5" x="507.5" y="3.6">11122</text><text class="m" x="531" y="3.6" textLength="10.5" lengthAdjust="spacingAndGlyphs">B1</text><text class="m" x="545" y="3.6">O85:H26</text><use href="#p1101100"/></g>
<g id="r72" transform="translate(0,753.3)"><text class="n" x="344" y="2.5">15S04829-1 *M</text><text class="m cc" x="411.5" y="3.6">C</text><text class="m" y="3.6"><tspan x="428.5">NL</tspan><tspan x="448.5">2015</tspan><tspan x="486">E</tspan></text><text class="m" x="507.7" y="3.6" textLength="20" lengthAdjust="spacingAndGlyphs">1250</text><text class="m" x="531" y="3.6" textLength="10.5" lengthAdjust="spacingAndGlyphs">B1</text><text class="m" x="545" y="3.6">O21:H26</text><use href="#p1101100"/></g>
<g id="r73" transform="translate(0,763.4)"><text class="n b" x="344" y="2.5">Prestige d.7 CTX</text><text class="m cc" x="411.5" y="3.6">C</text><text class="m" y="3.6"><tspan x="428.5">DK</tspan><tspan x="448.5">2010</tspan><tspan x="486">E</tspan></text><text class="m" x="507.7" y="3.6" textLength="20" lengthAdjust="spacingAndGlyphs">1250</text><text class="m" x="531" y="3.6" textLength="10.5" lengthAdjust="spacingAndGlyphs">B1</text><text class="m" x="545" y="3.6">O150:H26</text><use href="#p1101100"/></g>
<g id="r74" transform="translate(0,773.6)"><text class="n" x="344" y="2.5">ESC_ZA2276AA</text><text class="m cc" x="411.5" y="3.6">C</text><text class="m" y="3.6"><tspan x="428.5">CH</tspan><tspan x="448.5">2015</tspan><tspan x="486">E</tspan></text><text class="m" x="507.7" y="3.6" textLength="20" lengthAdjust="spacingAndGlyphs">1250</text><text class="m" x="531" y="3.6" textLength="10.5" lengthAdjust="spacingAndGlyphs">B1</text><text class="m" x="545" y="3.6">O141ab/ac:H26</text><use href="#p0000000"/></g>
<g id="r75" transform="translate(0,783.7)"><text class="n" x="344" y="2.5">ESC_JA8764AA</text><text class="m cc" x="411.5" y="3.6">C</text><text class="m" y="3.6"><tspan x="428.5">CH</tspan><tspan x="447.5">N/A</tspan><tspan x="486">E</tspan></text><text class="m" x="507.7" y="3.6" textLength="20" lengthAdjust="spacingAndGlyphs">1250</text><text class="m" x="531" y="3.6" textLength="10.5" lengthAdjust="spacingAndGlyphs">B1</text><text class="m" x="545" y="3.6">O141ab/ac:H26</text><use href="#p0000000"/></g>
<g id="r76" transform="translate(0,793.9)"><text class="n b" x="344" y="2.5">99783/3T *M</text><text class="m cc" x="411.5" y="3.6">C</text><text class="m" y="3.6"><tspan x="428.5">CZ</tspan><tspan x="448.5">2015</tspan><tspan x="486">E</tspan></text><text class="m" x="507.7" y="3.6" textLength="20" lengthAdjust="spacingAndGlyphs">1250</text><text class="m" x="531" y="3.6" textLength="10.5" lengthAdjust="spacingAndGlyphs">B1</text><text class="m" x="545" y="3.6">O4:H26</text><use href="#p1101100"/></g>
<g id="r77" transform="translate(0,804.1)"><text class="n b" x="344" y="2.5">99975/2 *PB</text><text class="m cc" x="411.5" y="3.6">C</text><text class="m" y="3.6"><tspan x="428.5">CZ</tspan><tspan x="448.5">2015</tspan><tspan x="486">E</tspan></text><text class="m" x="507.7" y="3.6" textLength="20" lengthAdjust="spacingAndGlyphs">1250</text><text class="m" x="531" y="3.6" textLength="10.5" lengthAdjust="spacingAndGlyphs">B1</text><text class="m" x="545" y="3.6">O15:H26</text><use href="#p1101100"/></g>
<g id="r78" transform="translate(0,814.2)"><text class="n b" x="344" y="2.5">c9</text><text class="m cc" x="411.5" y="3.6">C</text><text class="m" y="3.6"><tspan x="428.5">NL</tspan><tspan x="448.5">2015</tspan><tspan x="486">E</tspan></text><text class="m" x="507.7" y="3.6" textLength="20" lengthAdjust="spacingAndGlyphs">1250</text><text class="m" x="531" y="3.6" textLength="10.5" lengthAdjust="spacingAndGlyphs">B1</text><text class="m" x="545" y="3.6">O127:H26</text><use href="#p1101100"/></g>
<g id="r79" transform="translate(0,824.4)"><text class="n b" x="344" y="2.5">c22-1</text><text class="m cc" x="411.5" y="3.6">C</text><text class="m" y="3.6"><tspan x="428.5">NL</tspan><tspan x="448.5">2015</tspan><tspan x="486">E</tspan></text><text class="m" x="507.7" y="3.6" textLength="20" lengthAdjust="spacingAndGlyphs">1250</text><text class="m" x="531" y="3.6" textLength="10.5" lengthAdjust="spacingAndGlyphs">B1</text><text class="m" x="545" y="3.6">O26:H26</text><use href="#p1101010"/></g>
</svg>
